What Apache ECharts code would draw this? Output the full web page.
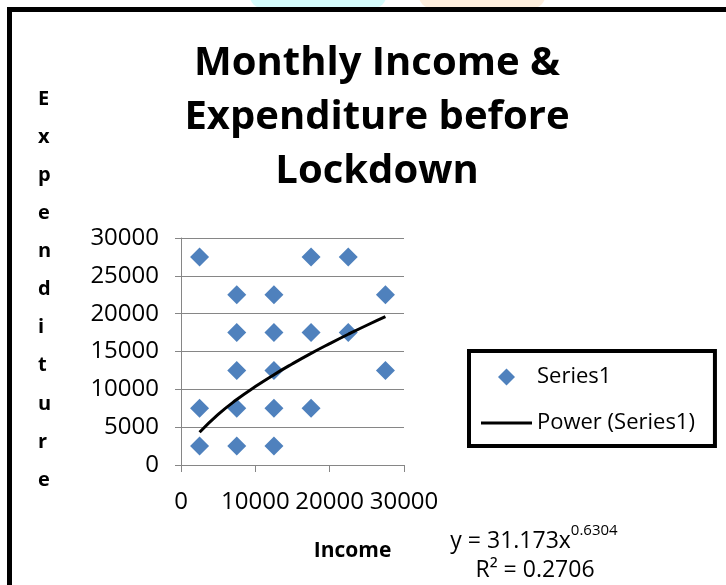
<!DOCTYPE html>
<html>
<head>
<meta charset="utf-8">
<script src="https://cdn.jsdelivr.net/npm/echarts@6/dist/echarts.min.js"></script>
<style>
  html, body { margin: 0; padding: 0; background: #fff; }
  #chart { width: 726px; height: 585px; }
</style>
</head>
<body>
<div id="chart"></div>
<script>
// survey points (income, expenditure)
const incomeX = [2500, 2500, 2500, 7500, 7500, 7500, 7500, 7500, 12500, 12500, 12500, 12500, 12500, 17500, 17500, 17500, 22500, 22500, 27500, 27500];
const expenditureY = [27500, 7500, 2500, 22500, 17500, 12500, 7500, 2500, 22500, 17500, 12500, 7500, 2500, 27500, 17500, 7500, 27500, 17500, 22500, 12500];

// power trendline
const trendX = [2500, 5000, 7500, 10000, 12500, 15000, 17500, 20000, 22500, 25000, 27500];
const trendY = [4320, 6690, 8650, 10360, 11930, 13380, 14750, 16040, 17280, 18470, 19600];

const xTicks = { min: 0, max: 30000, interval: 10000 };
const yTicks = { min: 0, max: 30000, interval: 5000 };

const font = 'Open Sans';
const axisGrey = '#868686';

const chart = echarts.init(document.getElementById('chart'));

const plain = v => String(v);

const option = {
    backgroundColor: '#fff',
    textStyle: { fontFamily: font },
    title: {
        text: 'Monthly Income &\nExpenditure before\nLockdown',
        left: 372,
        top: 32,
        textAlign: 'center',
        textStyle: {
            fontFamily: font,
            fontSize: 40,
            fontWeight: 'bold',
            color: '#000',
            lineHeight: 54
        }
    },
    grid: {
        left: 181,
        right: 322,
        top: 238,
        bottom: 120
    },
    xAxis: {
        type: 'value',
        min: xTicks.min,
        max: xTicks.max,
        interval: xTicks.interval,
        name: 'Income',
        nameLocation: 'middle',
        nameGap: 76,
        nameTextStyle: { fontFamily: font, fontSize: 21, fontWeight: 'bold', color: '#000', padding: [0, 0, 0, 120] },
        axisLine: { show: true, lineStyle: { color: axisGrey, width: 1 } },
        axisTick: { show: true, length: 7, lineStyle: { color: axisGrey } },
        axisLabel: { fontFamily: font, fontSize: 24, color: '#000', margin: 25, formatter: plain, showMaxLabel: true, hideOverlap: false },
        splitLine: { show: false }
    },
    yAxis: {
        type: 'value',
        min: yTicks.min,
        max: yTicks.max,
        interval: yTicks.interval,
        axisLine: { show: true, lineStyle: { color: axisGrey, width: 1 } },
        axisTick: { show: true, length: 6, lineStyle: { color: axisGrey } },
        axisLabel: { fontFamily: font, fontSize: 24, color: '#000', margin: 22, formatter: plain },
        splitLine: { show: true, lineStyle: { color: axisGrey, width: 1 } }
    },
    legend: {
        orient: 'vertical',
        left: 469,
        top: 351,
        padding: [15, 20, 12, 12],
        itemGap: 24,
        itemWidth: 51,
        itemHeight: 17,
        symbolKeepAspect: true,
        borderColor: '#000',
        borderWidth: 4,
        borderRadius: 0,
        backgroundColor: '#fff',
        textStyle: { fontFamily: font, fontSize: 22, color: '#000' },
        data: [
            { name: 'Series1', icon: 'path://M7,0L14,7L7,14L0,7Z' },
            { name: 'Power (Series1)', icon: 'path://M0,0H51V3H0Z' }
        ]
    },
    graphic: [
        // faint page shapes peeking above the frame
        { type: 'rect', shape: { x: 250, y: -20, width: 136, height: 28, r: 12 }, style: { fill: '#d6fcfc' }, z: 0 },
        { type: 'rect', shape: { x: 419, y: -20, width: 126, height: 28, r: 12 }, style: { fill: '#fdeedd' }, z: 0 },
        // chart frame
        { type: 'rect', shape: { x: 9.5, y: 9.5, width: 800, height: 700 }, style: { fill: null, stroke: '#000', lineWidth: 5 }, z: 1 },
        // vertical axis title, one letter per line
        {
            type: 'text',
            left: 38,
            top: 80,
            style: {
                text: 'E\nx\np\ne\nn\nd\ni\nt\nu\nr\ne',
                fontFamily: font,
                fontSize: 20,
                fontWeight: 'bold',
                fill: '#000',
                lineHeight: 38.1,
                align: 'center',
                width: 20
            }
        },
        // trendline equation
        {
            type: 'text',
            x: 534,
            y: 523,
            style: {
                text: '{b|y = 31.173x}{s|0.6304}',
                align: 'center',
                fill: '#000',
                rich: {
                    b: { fontFamily: font, fontSize: 23, lineHeight: 30, verticalAlign: 'bottom' },
                    s: { fontFamily: font, fontSize: 15, lineHeight: 30, verticalAlign: 'top', padding: [0, 0, 6, 0] }
                }
            }
        },
        {
            type: 'text',
            x: 535,
            y: 559,
            style: {
                text: 'R² = 0.2706',
                align: 'center',
                fontFamily: font,
                fontSize: 23,
                fill: '#000'
            }
        }
    ],
    series: [
        {
            name: 'Series1',
            type: 'scatter',
            symbol: 'diamond',
            symbolSize: 19,
            itemStyle: { color: '#4F81BD', opacity: 1 },
            data: incomeX.map((x, i) => [x, expenditureY[i]]),
            z: 2
        },
        {
            name: 'Power (Series1)',
            type: 'line',
            smooth: true,
            symbol: 'none',
            lineStyle: { color: '#000', width: 3 },
            itemStyle: { color: '#000' },
            data: trendX.map((x, i) => [x, trendY[i]]),
            z: 3
        }
    ]
};

chart.setOption(option);
</script>
</body>
</html>
